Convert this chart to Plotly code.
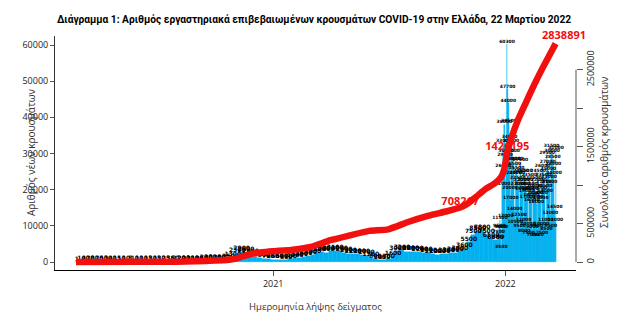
import pandas as pd
import plotly.graph_objects as go

# ---------------- data ----------------
# Weekly blocks (Monday start) with the average daily number of new cases, 2020-02-24 .. 2021-12-19
week_start = pd.date_range("2020-02-24", periods=95, freq="7D")
weekly_cases = [
    1, 10, 40, 70, 80, 70, 50, 30, 40, 15,          # Feb-Apr 2020
    10, 10, 8, 10,                                   # May
    10, 10, 15, 20, 15,                              # Jun
    20, 25, 35, 60,                                  # Jul
    120, 200, 230, 210, 190,                         # Aug
    250, 290, 300, 320,                              # Sep
    400, 500, 750, 1300,                             # Oct
    2300, 2900, 2600, 2000, 1500,                    # Nov
    1200, 900, 700, 650,                             # Dec 2020
    650, 600, 550, 700,                              # Jan 2021
    1000, 1200, 1500, 1700,                          # Feb
    2000, 2500, 2800, 2600, 3000,                    # Mar
    3100, 3000, 2600, 2300,                          # Apr
    2200, 2100, 2000, 1700, 1200,                    # May
    800, 500, 450, 700,                              # Jun
    1600, 3000, 3200, 2800,                          # Jul
    2800, 2900, 2700, 2600, 2400,                    # Aug
    2100, 2000, 2100, 2300,                          # Sep
    2400, 2500, 3000, 3600,                          # Oct
    5500, 7500, 8500, 8800, 7500,                    # Nov
    6500, 6000,                                      # Dec 2021
]

# Daily new cases 2021-12-20 .. 2022-03-21
daily_dates = pd.date_range("2021-12-20", "2022-03-21", freq="D")
daily_cases = [
    6200, 7800, 9500, 11500, 9000, 3500, 9000,
    21000, 26000, 33000, 38000, 29000, 12000, 30000,
    60300, 47700, 44000, 38500, 34000, 20000, 17000,
    33000, 30000, 28000, 26500, 24000, 14000, 10500,
    28000, 25500, 24000, 22500, 21000, 12500, 9500,
    27500, 24500, 22000, 21000, 19500, 11000, 8000,
    24500, 22000, 20000, 19000, 17500, 10000, 7500,
    23500, 21000, 19500, 18000, 16500, 9000, 7000,
    22500, 20500, 18500, 17500, 16000, 9500, 7000,
    24500, 22000, 20000, 18500, 17000, 10000, 7500,
    26000, 23500, 21500, 20500, 19000, 11000, 8500,
    29500, 27000, 25000, 23000, 21500, 13000, 9500,
    31500, 30000, 28500, 26500, 24000, 14500, 11000,
    31000,
]

# Cumulative number of cases (red line)
cum_dates = [
    "2020-02-26", "2020-06-01", "2020-08-01", "2020-09-01", "2020-10-01", "2020-10-20",
    "2020-11-01", "2020-11-15", "2020-12-01", "2020-12-15", "2021-01-01", "2021-02-01",
    "2021-03-01", "2021-04-01", "2021-05-01", "2021-06-01", "2021-07-01", "2021-08-01",
    "2021-09-01", "2021-10-01", "2021-10-22", "2021-11-01", "2021-11-15", "2021-12-01",
    "2021-12-15", "2021-12-25", "2021-12-30", "2022-01-04", "2022-01-10", "2022-01-20",
    "2022-02-01", "2022-02-15", "2022-03-01", "2022-03-21",
]
cum_values = [
    0, 3000, 4500, 10000, 19000, 26000,
    40000, 75000, 110000, 127000, 140000, 160000,
    195000, 283000, 345000, 405000, 425000, 520000,
    600000, 660000, 708217, 750000, 840000, 950000,
    1020000, 1100000, 1200000, 1426195, 1600000, 1830000,
    2050000, 2300000, 2530000, 2838891,
]

label_dates = ["2021-10-22", "2022-01-04"]
label_values = [708217, 1426195]
final_date = "2022-03-21"
final_value = 2838891

x_tick_vals = ["2021-01-01", "2022-01-01"]
x_tick_text = ["2021", "2022"]
left_ticks = [0, 10000, 20000, 30000, 40000, 50000, 60000]
right_ticks = [0, 500000, 1000000, 1500000, 2000000, 2500000]
right_tick_text = ["0", "500000", "", "1500000", "", "2500000"]

# ---------------- figure ----------------
BAR = "#00B0F0"
RED = "#F2100F"
DAY_MS = 86400000
TICKFONT = dict(family="Open Sans, Liberation Sans, sans-serif", size=9, color="#222")

fig = go.Figure()

fig.add_trace(go.Bar(
    x=week_start, y=weekly_cases, width=7 * DAY_MS, offset=0,
    marker=dict(color=BAR, line=dict(color=BAR, width=0.4)), hoverinfo="skip",
))
fig.add_trace(go.Bar(
    x=daily_dates, y=daily_cases, width=DAY_MS, offset=0,
    marker=dict(color=BAR, line=dict(color=BAR, width=0.4)), hoverinfo="skip",
))

# value labels drawn on top of the bars
fig.add_trace(go.Scatter(
    x=week_start + pd.Timedelta(hours=84), y=weekly_cases, mode="text",
    text=[str(v) for v in weekly_cases],
    textposition="top center", cliponaxis=False,
    textfont=dict(family="DejaVu Sans", size=6, color="black", weight="bold"),
    hoverinfo="skip",
))
fig.add_trace(go.Scatter(
    x=daily_dates + pd.Timedelta(hours=12), y=daily_cases, mode="text",
    text=[str(v) for v in daily_cases],
    textposition="top center", cliponaxis=False,
    textfont=dict(family="DejaVu Sans", size=4.5, color="black", weight="bold"),
    hoverinfo="skip",
))

# red value labels (under the line)
fig.add_trace(go.Scatter(
    x=label_dates, y=label_values, yaxis="y2", mode="text",
    text=[str(v) for v in label_values], textposition="top center",
    textfont=dict(family="Open Sans, sans-serif", size=11, color=RED, weight="bold"),
    hoverinfo="skip",
))

# cumulative red line
fig.add_trace(go.Scatter(
    x=cum_dates, y=cum_values, yaxis="y2", mode="lines",
    line=dict(color=RED, width=6.5, shape="spline", smoothing=0.5), hoverinfo="skip",
))

fig.update_layout(
    width=628, height=326,
    margin=dict(l=55, r=52, t=36, b=56),
    paper_bgcolor="white", plot_bgcolor="white",
    showlegend=False, barmode="overlay", bargap=0,
    title=dict(
        text="Διάγραμμα 1: Αριθμός εργαστηριακά επιβεβαιωμένων κρουσμάτων COVID-19 στην Ελλάδα, 22 Μαρτίου 2022",
        x=0.5, xanchor="center", y=1 - 19 / 326, yanchor="middle",
        font=dict(family="Roboto, sans-serif", size=10.2, color="black", weight="bold"),
    ),
    xaxis=dict(
        type="date", range=["2020-01-24", "2022-04-22"],
        tickvals=x_tick_vals, ticktext=x_tick_text,
        ticks="outside", ticklen=5, tickcolor="#555",
        showline=True, linecolor="black", linewidth=1,
        showgrid=False, zeroline=False, tickfont=TICKFONT,
    ),
    yaxis=dict(
        range=[-2212, 62488], tickvals=left_ticks, ticktext=[str(v) for v in left_ticks],
        ticks="outside", ticklen=4, tickcolor="#555",
        showline=True, linecolor="#333", linewidth=1,
        showgrid=False, zeroline=False, tickfont=TICKFONT,
    ),
    yaxis2=dict(
        overlaying="y", side="right", range=[-104000, 2938000],
        tickvals=right_ticks, ticktext=right_tick_text, tickangle=-90,
        ticks="outside", ticklen=6, tickcolor="#555",
        showline=False, showgrid=False, zeroline=False, tickfont=TICKFONT,
    ),
    shapes=[dict(type="line", xref="paper", x0=1, x1=1, yref="y2",
                 y0=right_ticks[0], y1=right_ticks[-1],
                 line=dict(color="#555", width=1))],
    annotations=[
        dict(x=final_date, y=final_value, xref="x", yref="y2",
             text="<b>%d</b>" % final_value, showarrow=False, xshift=8, yshift=9,
             font=dict(family="Open Sans, sans-serif", size=11, color=RED)),
        dict(x=0, y=0.5, xref="paper", yref="paper", xshift=-33, textangle=-90,
             text="Αριθμός νέων κρουσμάτων", showarrow=False,
             font=dict(family="Open Sans, sans-serif", size=10, color="#333")),
        dict(x=1, y=0.5, xref="paper", yref="paper", xshift=37, textangle=-90,
             text="Συνολικός αριθμός κρουσμάτων", showarrow=False,
             font=dict(family="Open Sans, sans-serif", size=10, color="#333")),
        dict(x=0.5, y=0, xref="paper", yref="paper", yshift=-36, yanchor="middle",
             text="Ημερομηνία λήψης δείγματος", showarrow=False,
             font=dict(family="Open Sans, sans-serif", size=9.5, color="#333")),
    ],
)

fig.write_html("out.html")
